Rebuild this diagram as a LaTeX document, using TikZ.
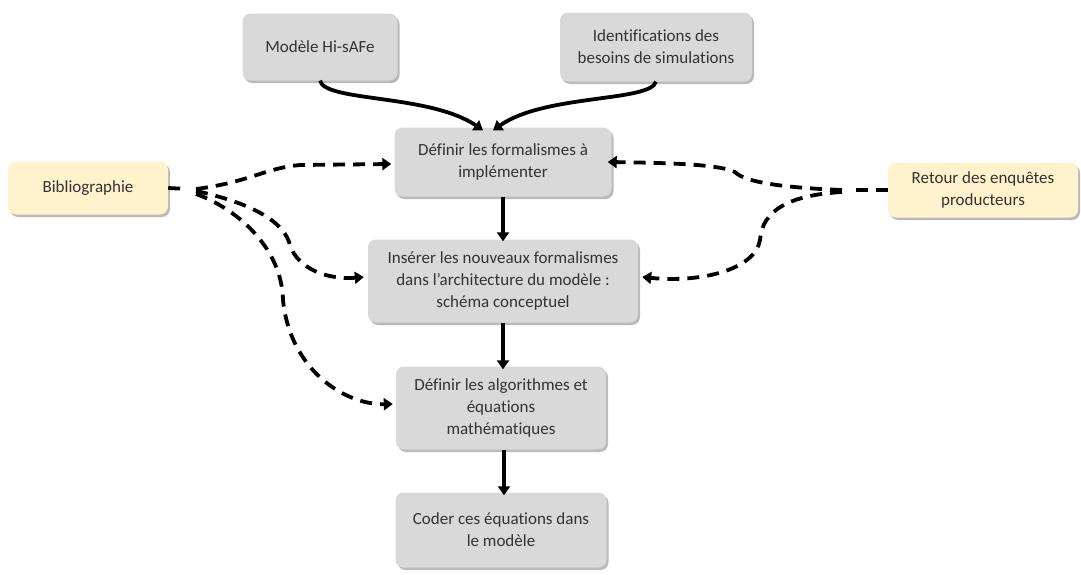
\documentclass[tikz,border=0pt]{standalone}
\usepackage{fontspec}
\setmainfont{Carlito}[Ligatures=NoCommon]
\usetikzlibrary{shadows,arrows.meta}
\definecolor{boxgray}{HTML}{D9D9D9}
\definecolor{boxyellow}{HTML}{FFF2CC}
\definecolor{txt}{HTML}{333333}
\tikzset{
  box/.style={draw=none, fill=boxgray, rounded corners=8pt, align=center,
    font=\fontsize{17}{22}\selectfont, text=txt,
    drop shadow={shadow xshift=2pt, shadow yshift=-2.5pt, fill=black!45, opacity=0.6}},
  ybox/.style={box, fill=boxyellow},
  flow/.style={line width=3.8pt, -{Triangle[width=12pt,length=9pt]}},
  dflow/.style={line width=3.8pt, dash pattern=on 12pt off 8pt, -{Triangle[width=12pt,length=9pt]}},
  dline/.style={line width=3.8pt, dash pattern=on 12pt off 8pt},
}
\begin{document}
\begin{tikzpicture}[x=1pt,y=-1pt]
\useasboundingbox (0,0) rectangle (1081,574);
\node[box, minimum width=155pt, minimum height=67pt] (m) at (320,47) {Modèle Hi-sAFe};
\node[box, minimum width=192pt, minimum height=69pt] (id) at (656,47) {Identifications des\\besoins de simulations};
\node[box, minimum width=217pt, minimum height=69pt] (d1) at (503,162) {Définir les formalismes à\\implémenter};
\node[box, minimum width=270pt, minimum height=83pt] (ins) at (503,281) {Insérer les nouveaux formalismes\\dans l’architecture du modèle :\\schéma conceptuel};
\node[box, minimum width=210pt, minimum height=83pt] (alg) at (501,408) {Définir les algorithmes et\\équations\\mathématiques};
\node[box, minimum width=211pt, minimum height=75pt] (cod) at (501,530) {Coder ces équations dans\\le modèle};
\node[ybox, minimum width=160pt, minimum height=53pt] (bib) at (88,188) {Bibliographie};
\node[ybox, minimum width=190pt, minimum height=55pt] (ret) at (983,190) {Retour des enquêtes\\producteurs};

% top curved arrows
\draw[flow] (m.south) .. controls (325,102) and (430,94) .. ([xshift=-20pt,yshift=-3pt]d1.north);
\draw[flow] (id.south) .. controls (650,102) and (545,94) .. ([xshift=-10pt,yshift=-3pt]d1.north);

% vertical arrows
\draw[flow] (d1.south) -- ([yshift=-2pt]d1.south |- ins.north);
\draw[flow] (ins.south) -- ([yshift=-3pt]ins.south |- alg.north);
\draw[flow] ([xshift=3pt]alg.south) -- ([xshift=3pt,yshift=-3pt]cod.north);

% bibliography dashed arrows
\draw[dline] (bib.east) -- (188,189);
\draw[dflow] (196,189) .. controls (250,182) and (265,168) .. (300,165) -- ([xshift=-3pt,yshift=-2pt]d1.west);
\draw[dflow] (196,191) .. controls (260,205) and (285,225) .. (290,245) .. controls (298,270) and (330,280) .. ([xshift=-4pt,yshift=4pt]ins.west);
\draw[dflow] (196,194) .. controls (240,210) and (282,250) .. (283,300) .. controls (290,370) and (345,405) .. ([xshift=-3pt,yshift=4pt]alg.west);

% retour dashed arrows
\draw[dline] (ret.west) -- (852,190);
\draw[dflow] (842,190) .. controls (790,188) and (745,183) .. (735,172) .. controls (720,165) and (680,163) .. ([xshift=-4pt]d1.east);
\draw[dflow] (842,192) .. controls (790,195) and (762,210) .. (760,240) .. controls (755,270) and (700,283) .. ([xshift=4pt,yshift=4pt]ins.east);
\end{tikzpicture}
\end{document}
